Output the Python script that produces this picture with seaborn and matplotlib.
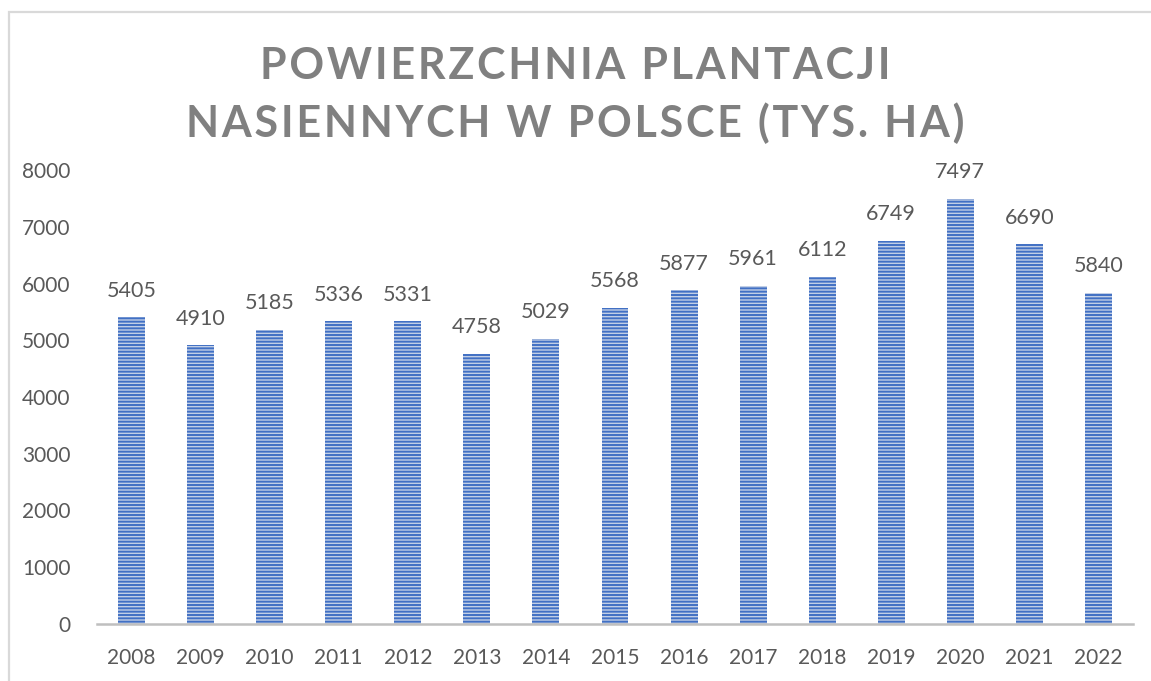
import numpy as np
import pandas as pd
import matplotlib
matplotlib.use('Agg')
import matplotlib.pyplot as plt
import matplotlib.patches as mpatches
import seaborn as sns

# dane
years = ['2008', '2009', '2010', '2011', '2012', '2013', '2014', '2015',
         '2016', '2017', '2018', '2019', '2020', '2021', '2022']
area = [5405, 4910, 5185, 5336, 5331, 4758, 5029, 5568,
        5877, 5961, 6112, 6749, 7497, 6690, 5840]

df = pd.DataFrame({'Rok': years, 'Powierzchnia': area})

sns.set_style('white')
plt.rcParams['font.family'] = ['Lato', 'DejaVu Sans']
plt.rcParams['hatch.linewidth'] = 1.4

fig = plt.figure(figsize=(11.51, 6.81), dpi=100)
ax = fig.add_axes([97/1151, 1 - 624/681, (1133 - 97)/1151, (624 - 170)/681])

sns.barplot(data=df, x='Rok', y='Powierzchnia', color='#bccdec', width=0.39,
            edgecolor='#4170c4', linewidth=0, hatch='-----', ax=ax)

for c in ax.containers:
    ax.bar_label(c, labels=[str(v) for v in area], padding=12,
                 fontsize=15.5, color='#595959')

ax.set_ylim(0, 8000)
ax.set_xlim(-0.5, 14.5)
ax.set_yticks(np.arange(0, 8001, 1000))
ax.set_xlabel('')
ax.set_ylabel('')
ax.tick_params(axis='both', length=0, labelsize=15, labelcolor='#595959')
ax.tick_params(axis='y', pad=19)
ax.tick_params(axis='x', pad=17)
for s in ['top', 'right', 'left']:
    ax.spines[s].set_visible(False)
ax.spines['bottom'].set_color('#bfbfbf')
ax.spines['bottom'].set_linewidth(1.8)


def spaced(t):
    # rozstrzelenie liter jak w tytule Excela
    return '\u200a'.join(t)


fig.text(0.5, 1 - 66/681, spaced('POWIERZCHNIA PLANTACJI'), ha='center', va='center',
         fontsize=31, fontweight='bold', color='#808080')
fig.text(0.5, 1 - 123/681, spaced('NASIENNYCH W POLSCE (TYS. HA)'), ha='center', va='center',
         fontsize=31, fontweight='bold', color='#808080')

# ramka wykresu
fig.add_artist(mpatches.Rectangle((9/1151, -0.1), 1.2, 1 - 12/681 + 0.1,
                                  transform=fig.transFigure, fill=False,
                                  edgecolor='#d9d9d9', linewidth=1.6))

fig.savefig('out.png', dpi=100)
